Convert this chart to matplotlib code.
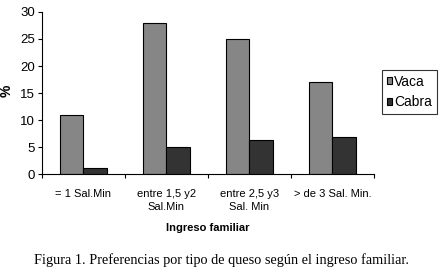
import matplotlib.pyplot as plt
import numpy as np

# datos
categorias = ["= 1 Sal.Min", "entre 1,5 y2\nSal.Min", "entre 2,5 y3\nSal. Min", "> de 3 Sal. Min."]
vaca = [11, 28, 25, 17]
cabra = [1.2, 5.1, 6.3, 6.8]
series = ["Vaca", "Cabra"]
yticks = [0, 5, 10, 15, 20, 25, 30]

plt.rcParams['font.family'] = ['Liberation Sans', 'DejaVu Sans']

fig = plt.figure(figsize=(4.42, 2.72), dpi=100)
ax = fig.add_axes([0.095, 0.36, 0.751, 0.596])

x = np.arange(len(categorias))
w = 0.28
ax.bar(x - w / 2, vaca, w, color='#868686', edgecolor='black', linewidth=0.8, label=series[0])
ax.bar(x + w / 2, cabra, w, color='#333333', edgecolor='black', linewidth=0.8, label=series[1])

ax.set_xlim(-0.5, len(categorias) - 0.5)
ax.set_ylim(0, 30)
ax.set_yticks(yticks)
ax.tick_params(axis='y', labelsize=9.5, length=3, width=0.8, pad=2)

# etiquetas en el centro, marcas en los limites de cada categoria
ax.set_xticks(x)
ax.set_xticklabels(categorias, fontsize=8, linespacing=1.35)
ax.tick_params(axis='x', which='major', length=0, pad=11)
ax.set_xticks(np.arange(len(categorias) + 1) - 0.5, minor=True)
ax.tick_params(axis='x', which='minor', length=3, width=0.8)

for s in ['top', 'right']:
    ax.spines[s].set_visible(False)
for s in ['left', 'bottom']:
    ax.spines[s].set_linewidth(0.8)

ax.set_ylabel('%', fontsize=10, fontweight='bold')
ax.yaxis.set_label_coords(0.03, 0.665, transform=fig.transFigure)
ax.set_xlabel('Ingreso familiar', fontsize=8, fontweight='bold', labelpad=8)

leg = ax.legend(loc='upper left', bbox_to_anchor=(0.864, 0.743), bbox_transform=fig.transFigure,
                fontsize=10, frameon=True, fancybox=False, borderaxespad=0,
                handlelength=0.4, handleheight=0.4, handletextpad=0.15,
                borderpad=0.35, labelspacing=0.45)
leg.get_frame().set_edgecolor('black')
leg.get_frame().set_linewidth(0.8)

fig.text(0.5, 0.045, 'Figura 1. Preferencias por tipo de queso según el ingreso familiar.',
         ha='center', va='center', fontsize=10.25, family=['Liberation Serif', 'DejaVu Serif'])

fig.savefig('out.png', dpi=100)
